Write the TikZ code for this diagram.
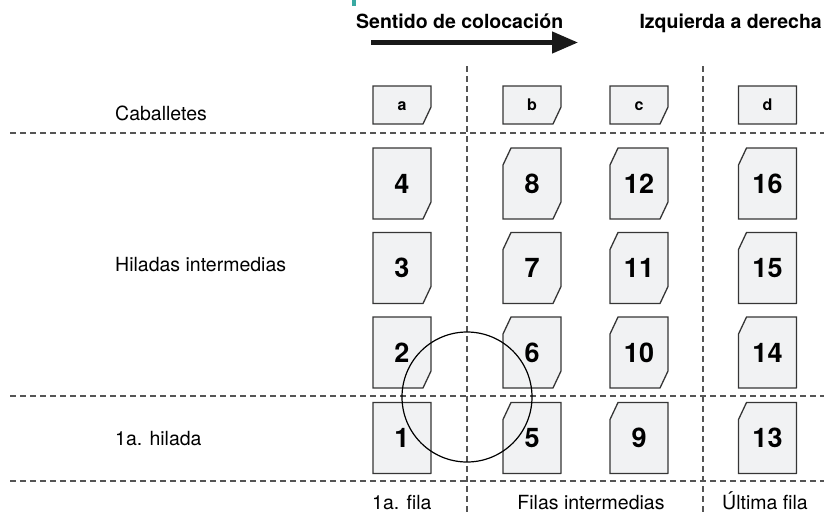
\documentclass[tikz,border=0pt]{standalone}
\usepackage{fontspec}
\setmainfont{TeX Gyre Heros}
\usetikzlibrary{arrows.meta}

\definecolor{tejagris}{HTML}{F1F2F3}
\definecolor{tejaborde}{HTML}{363636}
\definecolor{lineagris}{HTML}{555555}
\definecolor{turquesa}{HTML}{3AA9A2}

% tile: style, name, x, y, height, text, cut top-left (0/1), cut bottom-right (0/1)
\newcommand{\teja}[8]{%
  \ifnum#7=1 \def\esqsup{(#3-29,#4-#5/2+17) -- (#3-21,#4-#5/2)}%
  \else \def\esqsup{(#3-29,#4-#5/2)}\fi
  \ifnum#8=1 \def\esqinf{(#3+29,#4+#5/2-17) -- (#3+21,#4+#5/2)}%
  \else \def\esqinf{(#3+29,#4+#5/2-0.2) -- (#3+28.8,#4+#5/2)}\fi
  \filldraw[borde] \esqsup -- (#3+29,#4-#5/2) -- \esqinf -- (#3-29,#4+#5/2) -- cycle;
  \node[#1,minimum width=58pt,minimum height=#5pt] (#2) at (#3,#4) {#6};}

\begin{document}
\begin{tikzpicture}[x=1pt,y=-1pt]
\tikzstyle{borde}=[draw=tejaborde,fill=tejagris,line width=1.3pt]
\tikzstyle{numero}=[inner sep=0pt,font=\fontsize{27}{27}\selectfont\bfseries]
\tikzstyle{letra}=[inner sep=0pt,text height=11.5pt,text depth=0pt,font=\fontsize{16}{16}\selectfont\bfseries]
\tikzstyle{rotulo}=[inner sep=0pt,font=\fontsize{19.5}{20}\selectfont]
\tikzstyle{titulo}=[inner sep=0pt,font=\fontsize{19.5}{20}\selectfont\bfseries]
\tikzstyle{guia}=[draw=lineagris,line width=1.2pt,dash pattern=on 5.5pt off 4.5pt]

\useasboundingbox (0,0) rectangle (824,512);
\fill[turquesa] (352,0) rectangle (356,6);

% grid
\draw[guia] (10,133) -- (824,133);
\draw[guia] (10,396) -- (824,396);
\draw[guia] (10,481) -- (824,481);
\draw[guia] (467,66) -- (467,512);
\draw[guia] (703,66) -- (703,512);

% heading
\node[titulo,anchor=base west] (sentido) at (356,28) {Sentido de colocación};
\node[titulo,anchor=base east] (direccion) at (822,28) {Izquierda a derecha};
\coordinate (flecha_inicio) at (371,42.5);
\coordinate (flecha_fin) at (578,42.5);
\draw[-{Triangle[length=26pt,width=21pt]},line width=4.5pt,black!90] (flecha_inicio) -- (flecha_fin);

% row labels
\node[rotulo,anchor=base west] (caballetes) at (115,120) {Caballetes};
\node[rotulo,anchor=base west] (hiladas) at (115,271) {Hiladas intermedias};
\node[rotulo,anchor=base west] (primera_hilada) at (115,445) {1a. hilada};

% column labels
\node[rotulo,anchor=base west] (primera_fila) at (372,509) {1a. fila};
\node[rotulo,anchor=base] (filas) at (591,509) {Filas intermedias};
\node[rotulo,anchor=base west] (ultima_fila) at (722,509) {Última fila};

% caballetes
\teja{letra}{cab_a}{402}{105}{38}{a}{0}{1}
\teja{letra}{cab_b}{532}{105}{38}{b}{0}{1}
\teja{letra}{cab_c}{639}{105}{38}{c}{0}{1}
\teja{letra}{cab_d}{767.5}{105}{38}{d}{0}{0}

% 1a. fila
\teja{numero}{teja1}{402}{438}{71}{1}{0}{0}
\teja{numero}{teja2}{402}{352.5}{71}{2}{0}{1}
\teja{numero}{teja3}{402}{268}{71}{3}{0}{1}
\teja{numero}{teja4}{402}{183.5}{71}{4}{0}{1}

% filas intermedias
\teja{numero}{teja5}{532}{438}{71}{5}{1}{0}
\teja{numero}{teja6}{532}{352.5}{71}{6}{1}{1}
\teja{numero}{teja7}{532}{268}{71}{7}{1}{1}
\teja{numero}{teja8}{532}{183.5}{71}{8}{1}{1}
\teja{numero}{teja9}{639}{438}{71}{9}{1}{0}
\teja{numero}{teja10}{639}{352.5}{71}{10}{1}{1}
\teja{numero}{teja11}{639}{268}{71}{11}{1}{1}
\teja{numero}{teja12}{639}{183.5}{71}{12}{1}{1}

% ultima fila
\teja{numero}{teja13}{767.5}{438}{71}{13}{1}{0}
\teja{numero}{teja14}{767.5}{352.5}{71}{14}{1}{0}
\teja{numero}{teja15}{767.5}{268}{71}{15}{1}{0}
\teja{numero}{teja16}{767.5}{183.5}{71}{16}{1}{0}

% detail
\draw[line width=1.2pt] (467,397) circle (65pt);
\end{tikzpicture}
\end{document}
